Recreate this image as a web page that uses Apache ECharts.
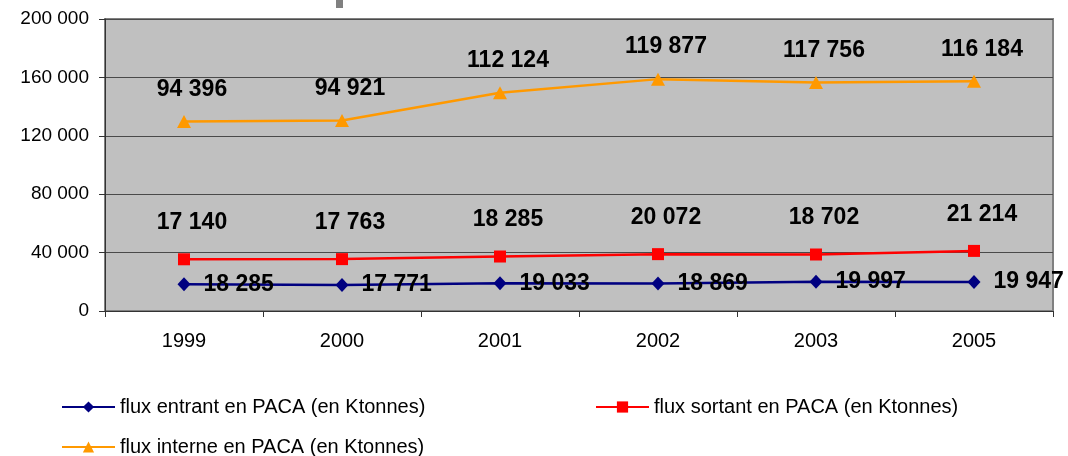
<!DOCTYPE html>
<html>
<head>
    <meta charset="utf-8">
    <title>flux PACA</title>
    <script src="https://cdn.jsdelivr.net/npm/echarts@6/dist/echarts.min.js"></script>
    <style type="text/css">
        body{ margin:0; background:#fff; }
    </style>
</head>
<body>
<div id="main" style="width:1068px;height:456px;"></div>

<script type="text/javascript">
    // données (en Ktonnes)
    var annees = ['1999', '2000', '2001', '2002', '2003', '2005'];
    var fluxEntrant = [18285, 17771, 19033, 18869, 19997, 19947];
    var fluxSortant = [17140, 17763, 18285, 20072, 18702, 21214];
    var fluxInterne = [94396, 94921, 112124, 119877, 117756, 116184];

    var noms = [
        'flux entrant en PACA (en Ktonnes)',
        'flux sortant en PACA (en Ktonnes)',
        'flux interne en PACA (en Ktonnes)'
    ];

    // 200000 -> "200 000"
    function fmt(n) {
        return String(n).replace(/\B(?=(\d{3})+(?!\d))/g, ' ');
    }

    var police = 'Liberation Sans, Arial, sans-serif';
    var etiquette = {
        show: true,
        color: '#000',
        fontFamily: police,
        fontSize: 23,
        fontWeight: 'bold',
        formatter: function (p) { return fmt(p.value); }
    };

    var myChart = echarts.init(document.getElementById('main'));
    myChart.setOption({
        animation: false,
        backgroundColor: '#fff',
        textStyle: { fontFamily: police },
        graphic: [{
            type: 'rect',
            shape: { x: 336, y: 0, width: 7, height: 8 },
            style: { fill: '#808080' }
        }],
        grid: {
            left: 105, right: 15, top: 19, bottom: 145,
            show: true,
            backgroundColor: '#c0c0c0',
            borderColor: '#808080',
            borderWidth: 2
        },
        legend: [
            { data: [noms[0]], left: 61, top: 397 },
            { data: [noms[1]], left: 595, top: 397 },
            { data: [noms[2]], left: 61, top: 437 }
        ].map(function (l) {
            l.padding = 0;
            l.itemWidth = 53;
            l.itemHeight = 14;
            l.textStyle = { color: '#000', fontSize: 20, fontFamily: police };
            return l;
        }),
        xAxis: {
            type: 'category',
            data: annees,
            boundaryGap: true,
            axisLine: { lineStyle: { color: '#333', width: 1 } },
            axisTick: { show: true, length: 6, lineStyle: { color: '#333' } },
            axisLabel: { color: '#000', fontSize: 20, margin: 20 }
        },
        yAxis: {
            type: 'value',
            min: 0,
            max: 200000,
            interval: 40000,
            axisLine: { show: true, lineStyle: { color: '#333', width: 1 } },
            axisTick: { show: true, length: 6, lineStyle: { color: '#333' } },
            axisLabel: { color: '#000', fontSize: 19, margin: 16, formatter: fmt },
            splitLine: { lineStyle: { color: '#4a4a4a', width: 1.2 } }
        },
        series: [
            {
                name: noms[0],
                type: 'line',
                stack: 'total',
                data: fluxEntrant,
                color: '#000080',
                symbol: 'diamond',
                symbolSize: [13, 14],
                lineStyle: { width: 2.5 },
                label: Object.assign({}, etiquette, { position: 'right', distance: 13 })
            },
            {
                name: noms[1],
                type: 'line',
                stack: 'total',
                data: fluxSortant,
                color: '#ff0000',
                symbol: 'rect',
                symbolSize: 12,
                lineStyle: { width: 2.5 },
                label: Object.assign({}, etiquette, { position: 'top', distance: 19, offset: [8, 0] })
            },
            {
                name: noms[2],
                type: 'line',
                stack: 'total',
                data: fluxInterne,
                color: '#ff9900',
                symbol: 'triangle',
                symbolSize: [14, 13],
                lineStyle: { width: 2.5 },
                label: Object.assign({}, etiquette, { position: 'top', distance: 14, offset: [8, 0] })
            }
        ]
    });
</script>

</body>
</html>
